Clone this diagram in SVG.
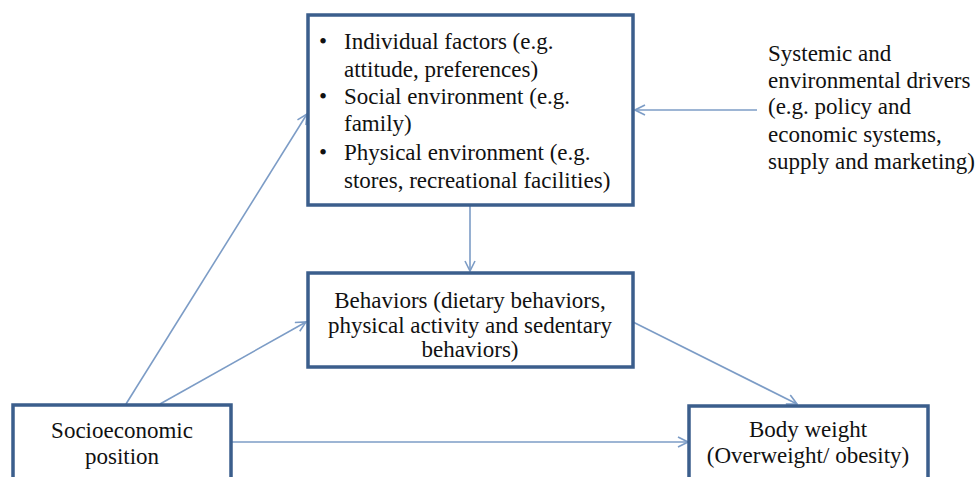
<svg xmlns="http://www.w3.org/2000/svg" width="977" height="477" viewBox="0 0 977 477">
<style>
.box{fill:#ffffff;stroke:#3b5e8c;stroke-width:3.5}
.t text{font-family:'Liberation Serif','Times New Roman',Times,'DejaVu Serif',serif;font-size:23px;fill:#111}
.c text{text-anchor:middle}
.con{stroke:#7c9cc6;stroke-width:1.6;fill:none;marker-end:url(#ah)}
</style>
<defs>
<marker id="ah" viewBox="0 0 12 12" refX="11" refY="6" markerWidth="12" markerHeight="12" markerUnits="userSpaceOnUse" orient="auto">
<path d="M1,1 L11,6 L1,11" fill="none" stroke="#7c9cc6" stroke-width="1.6"/>
</marker>
</defs>
<rect width="977" height="477" fill="#ffffff"/>
<g id="connectors">
<line class="con" x1="757" y1="110" x2="635" y2="110"/>
<line class="con" x1="470" y1="206" x2="470" y2="271"/>
<line class="con" x1="126" y1="404" x2="307" y2="114"/>
<line class="con" x1="160" y1="404" x2="306" y2="322"/>
<line class="con" x1="633" y1="322" x2="797" y2="404"/>
<line class="con" x1="231" y1="442" x2="688" y2="442"/>
</g>
<g id="factors">
<rect class="box" x="308" y="15" width="325" height="190"/>
<g class="t" font-family="Liberation Serif, serif">
<text x="319" y="49">•</text>
<text x="344" y="49">Individual factors (e.g.</text>
<text x="344" y="77">attitude, preferences)</text>
<text x="319" y="104">•</text>
<text x="344" y="104">Social environment (e.g.</text>
<text x="344" y="131">family)</text>
<text x="319" y="160">•</text>
<text x="344" y="160">Physical environment (e.g.</text>
<text x="344" y="188">stores, recreational facilities)</text>
</g>
</g>
<g id="drivers">
<g class="t" font-family="Liberation Serif, serif">
<text x="768" y="61">Systemic and</text>
<text x="768" y="88">environmental drivers</text>
<text x="768" y="114">(e.g. policy and</text>
<text x="768" y="142">economic systems,</text>
<text x="768" y="169">supply and marketing)</text>
</g>
</g>
<g id="behaviors">
<rect class="box" x="308" y="273" width="325" height="94"/>
<g class="t c" font-family="Liberation Serif, serif">
<text x="470" y="308">Behaviors (dietary behaviors,</text>
<text x="470" y="333">physical activity and sedentary</text>
<text x="470" y="357">behaviors)</text>
</g>
</g>
<g id="ses">
<rect class="box" x="13" y="405" width="218" height="90"/>
<g class="t c" font-family="Liberation Serif, serif">
<text x="122" y="438">Socioeconomic</text>
<text x="122" y="464">position</text>
</g>
</g>
<g id="bodyweight">
<rect class="box" x="689" y="406" width="239" height="90"/>
<g class="t c" font-family="Liberation Serif, serif">
<text x="808" y="437">Body weight</text>
<text x="808" y="463">(Overweight/ obesity)</text>
</g>
</g>
</svg>
